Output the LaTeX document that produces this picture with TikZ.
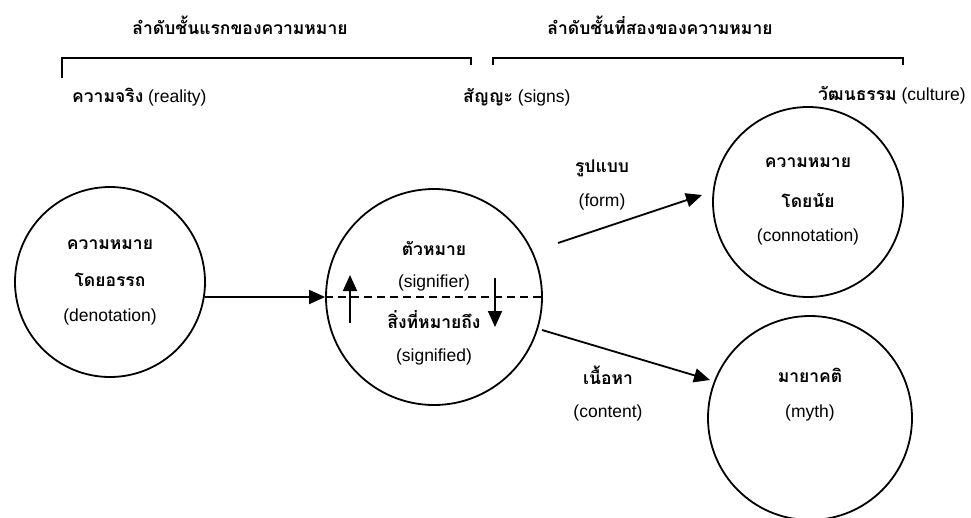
\documentclass[tikz,border=0pt]{standalone}
\usepackage{fontspec}
\setmainfont{Liberation Sans}
\newfontfamily\thaifont[Script=Thai]{Loma}
\newcommand{\thai}[1]{{\thaifont\bfseries #1}}
\usetikzlibrary{arrows.meta}

\begin{document}
\begin{tikzpicture}[x=1pt,y=-1pt,font=\fontsize{17.5}{20}\selectfont]
\tikzstyle{every node}+=[inner sep=0pt]
\tikzstyle{ring}=[draw,circle,line width=1.8pt]
\tikzstyle{arr}=[line width=1.8pt,-{Triangle[length=16pt,width=14pt]}]
\tikzstyle{bar}=[line width=1.8pt]
\useasboundingbox (0,0) rectangle (971,517);
\node (first) at (240,25) {\thai{ลำดับชั้นแรกของความหมาย}};
\node (second) at (660,25) {\thai{ลำดับชั้นที่สองของความหมาย}};
\draw [bar] (62,78) -- (62,58) -- (471,58) -- (471,65);
\draw [bar] (493,65) -- (493,58) -- (903,58) -- (903,65);
\node [anchor=west] (reality) at (72,97) {\thai{ความจริง} (reality)};
\node [anchor=west] (signs) at (463,97) {\thai{สัญญะ} (signs)};
\node [anchor=east] (culture) at (966,95) {\thai{วัฒนธรรม} (culture)};
\node [ring,minimum size=190pt] (den) at (110,282) {};
\node at (110,245) {\thai{ความหมาย}};
\node at (110,280) {\thai{โดยอรรถ}};
\node at (110,317) {(denotation)};
\node [ring,minimum size=216pt] (sig) at (434,297) {};
\node at (434,248) {\thai{ตัวหมาย}};
\node at (434,283) {(signifier)};
\node at (434,320) {\thai{สิ่งที่หมายถึง}};
\node at (434,357) {(signified)};
\node [ring,minimum size=190pt] (con) at (808,202) {};
\node at (808,163) {\thai{ความหมาย}};
\node at (808,200) {\thai{โดยนัย}};
\node at (808,237) {(connotation)};
\node [ring,minimum size=204pt] (myth) at (810,418) {};
\node at (810,375) {\thai{มายาคติ}};
\node at (810,413) {(myth)};
\draw [arr] (den.-9) -- (sig.west);
\draw [bar,dash pattern=on 8pt off 5pt] (sig.west) -- (sig.east);
\coordinate (upA) at (350,323);
\coordinate (upB) at (350,275);
\coordinate (downA) at (495,278);
\coordinate (downB) at (495,327);
\draw [arr] (upA) -- (upB);
\draw [arr] (downA) -- (downB);
\coordinate (formA) at (558,243);
\coordinate (formB) at (702,195);
\coordinate (contA) at (542,330);
\coordinate (contB) at (710,380);
\draw [arr] (formA) -- (formB);
\draw [arr] (contA) -- (contB);
\node (form) at (602,168) {\thai{รูปแบบ}};
\node at (602,202) {(form)};
\node (content) at (608,375) {\thai{เนื้อหา}};
\node at (608,413) {(content)};
\end{tikzpicture}
\end{document}
